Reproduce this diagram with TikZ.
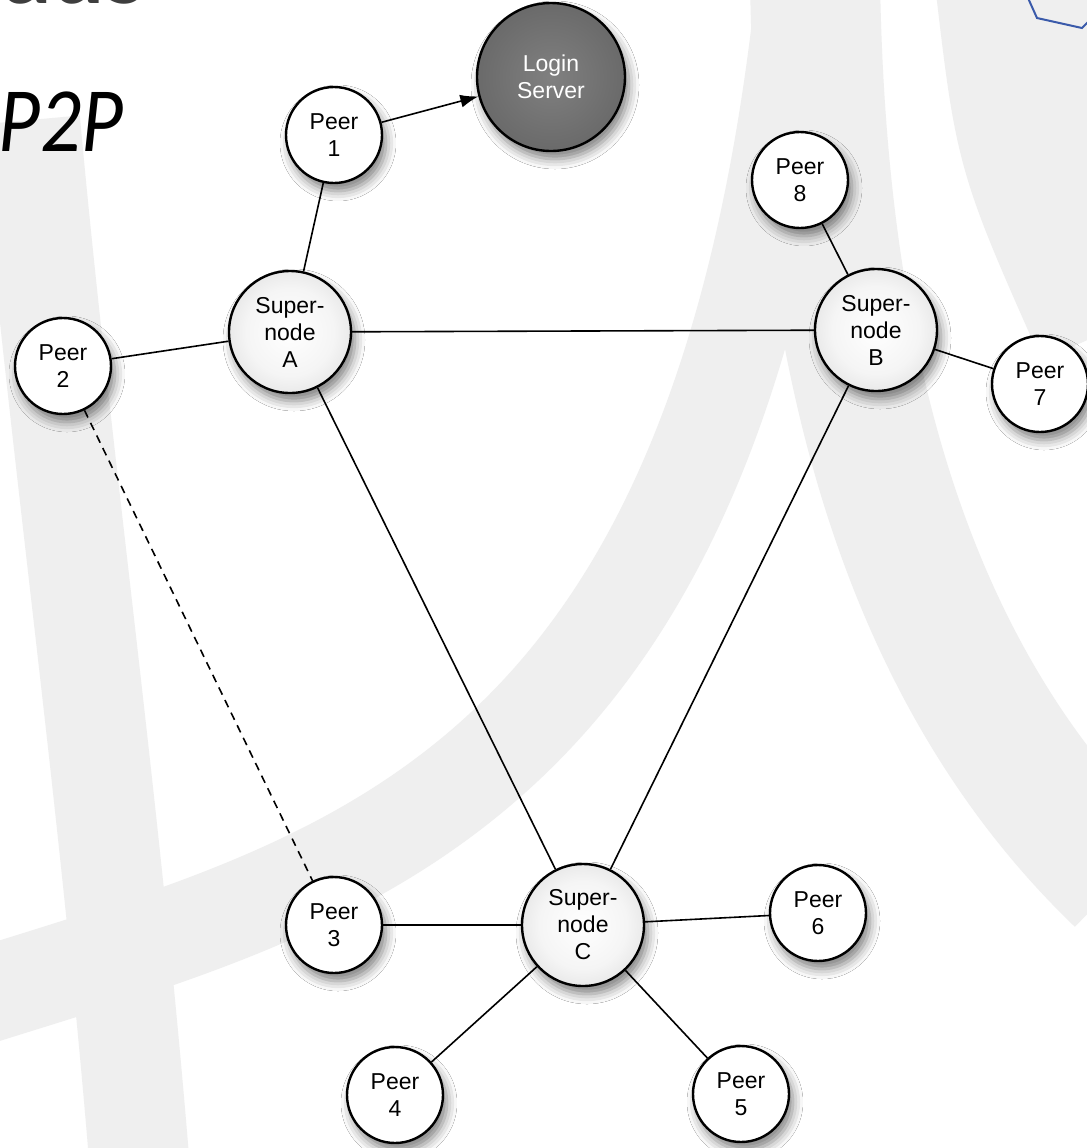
\documentclass[tikz,border=0pt]{standalone}
\usepackage{fontspec}
\setmainfont{Liberation Sans}
\newfontfamily\slidefont{Carlito}
\usepackage{graphicx}
\usetikzlibrary{arrows.meta,shadows.blur}
\definecolor{bandgray}{RGB}{239,239,239}
\definecolor{titlegray}{RGB}{62,62,62}
\definecolor{logoblue}{RGB}{58,90,170}
\definecolor{srvin}{RGB}{128,128,128}
\definecolor{srvout}{RGB}{84,84,84}
\pgfdeclareradialshading{superball}{\pgfpoint{0bp}{0bp}}{color(0bp)=(white); color(18bp)=(white!96!black); color(50bp)=(black!24); color(100bp)=(black!24)}
\pgfdeclareradialshading{serverball}{\pgfpoint{0bp}{0bp}}{color(0bp)=(srvin); color(50bp)=(srvout); color(100bp)=(srvout)}

\begin{document}
\begin{tikzpicture}[
x=0.5pt,y=-0.5pt,
nd/.style={circle,draw,line width=1.2pt,inner sep=0pt,align=center,font=\fontsize{11.5}{13.5}\selectfont,
  blur shadow={shadow xshift=2pt,shadow yshift=-4pt,shadow blur radius=5pt,shadow opacity=50}},
peer/.style={nd,fill=white,minimum size=48pt},
super/.style={nd,minimum size=61pt,shading=superball},
server/.style={nd,minimum size=74pt,shading=serverball,text=white},
link/.style={line width=0.8pt},
arr/.style={link,-{Latex[length=9pt,width=6.5pt]}},
band/.style={bandgray,line width=60pt,line cap=butt}
]
\useasboundingbox (0,0) rectangle (1087,1148);
\clip (0,0) rectangle (1087,1148);
\fill[white] (0,0) rectangle (1087,1148);

% slide background
\draw[band,line width=50pt] (30,120) .. controls (60,450) and (110,800) .. (140,1170);
\draw[band,line width=48pt] (-30,1000) .. controls (350,880) and (720,800) .. (805,-20);
\draw[band,line width=65pt] (815,-20) .. controls (820,300) and (880,650) .. (1120,880);
\draw[band,line width=75pt] (1010,-20) .. controls (1030,150) .. (1110,330);
\draw[logoblue,line width=1pt] (1028,-2) -- (1037,18) -- (1082,28) -- (1090,20);

\node[anchor=base east,text=titlegray,font=\slidefont\bfseries\fontsize{50}{50}\selectfont] (head) at (152,3) {ads};
\node[anchor=base west,inner sep=0pt,font=\slidefont\itshape\fontsize{46}{46}\selectfont] (sub) at (-2,151) {\scalebox{0.88}[1]{P2P}};

% nodes
\node[server] (login) at (551,77) {Login\\Server};
\node[peer] (p1) at (334,135) {Peer\\1};
\node[super] (sa) at (290,332) {Super-\\node\\A};
\node[peer] (p2) at (63,366) {Peer\\2};
\node[super] (sb) at (876,330) {Super-\\node\\B};
\node[peer] (p8) at (800,180) {Peer\\8};
\node[peer] (p7) at (1040,384) {Peer\\7};
\node[super] (sc) at (583,925) {Super-\\node\\C};
\node[peer] (p3) at (334,925) {Peer\\3};
\node[peer] (p6) at (818,913) {Peer\\6};
\node[peer] (p4) at (395,1095) {Peer\\4};
\node[peer] (p5) at (741,1094) {Peer\\5};

% links
\draw[arr] (p1) -- (login);
\draw[link] (p1) -- (sa);
\draw[link] (sa) -- (p2);
\draw[link] (sa) -- (sb);
\draw[link] (sa) -- (sc);
\draw[link] (sb) -- (sc);
\draw[link] (sb) -- (p8);
\draw[link] (sb) -- (p7);
\foreach \p in {p3,p4,p5,p6}
  \draw[link] (sc) -- (\p);
\draw[link,dash pattern=on 4pt off 3pt] (p2) -- (p3);
\end{tikzpicture}
\end{document}
